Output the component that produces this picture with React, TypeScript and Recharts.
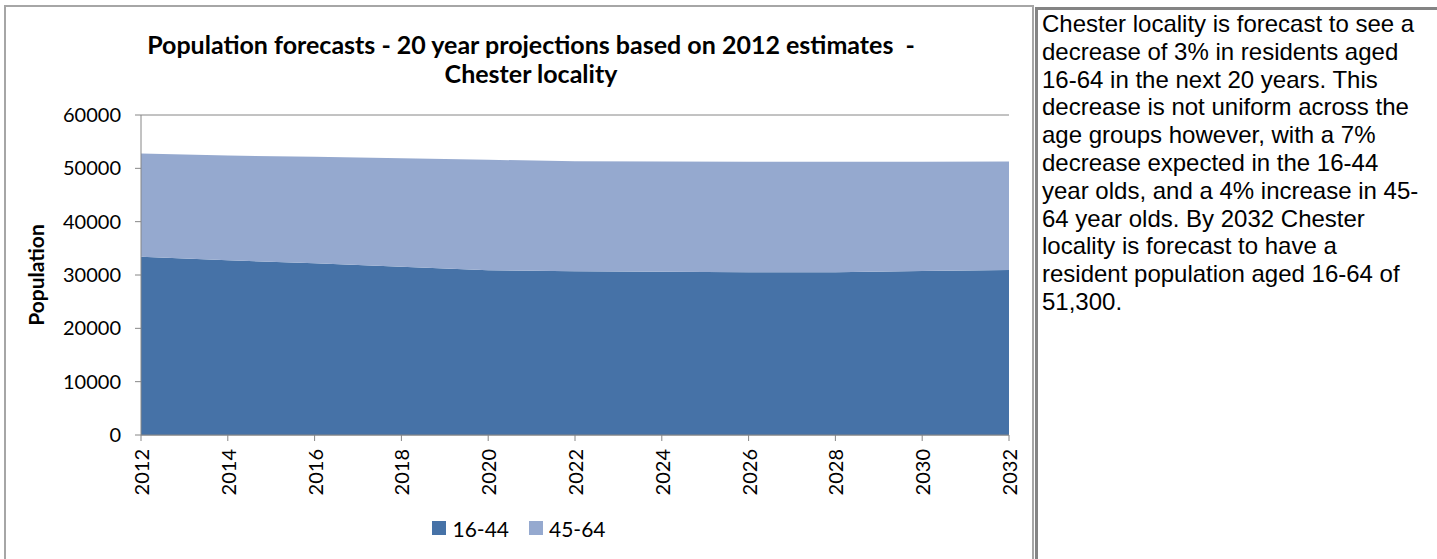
import React from "react";
import {
  AreaChart,
  Area,
  XAxis,
  YAxis,
  CartesianGrid,
  Legend,
} from "recharts";

// Chester locality, population aged 16-64
const years = ["2012", "2014", "2016", "2018", "2020", "2022", "2024", "2026", "2028", "2030", "2032"];
const age16to44 = [33400, 32750, 32200, 31550, 30900, 30700, 30600, 30500, 30500, 30750, 30950];
const age45to64 = [19400, 19650, 19950, 20350, 20700, 20650, 20700, 20750, 20750, 20500, 20350];
const yTicks = [0, 10000, 20000, 30000, 40000, 50000, 60000];

const SERIES = [
  { key: "a", label: "16-44", color: "#4672a7" },
  { key: "b", label: "45-64", color: "#95a9cf" },
];

const NOTE_LINES = [
  "Chester locality is forecast to see a",
  "decrease of 3% in residents aged",
  "16-64 in the next 20 years. This",
  "decrease is not uniform across the",
  "age groups however, with a 7%",
  "decrease expected in the 16-44",
  "year olds, and a 4% increase in 45-",
  "64 year olds. By 2032 Chester",
  "locality is forecast to have a",
  "resident population aged 16-64 of",
  "51,300.",
];

const FONT = "Lato, 'Open Sans', sans-serif";
const AXIS_GREY = "#868686";

const data = years.map((year, i) => ({ year, a: age16to44[i], b: age45to64[i] }));

function YearTick({ x, y, payload }: any) {
  const ty = y + 6;
  return (
    <text
      x={x}
      y={ty}
      transform={`rotate(-90, ${x}, ${ty})`}
      textAnchor="end"
      dominantBaseline="central"
      fontFamily={FONT}
      fontSize={20}
      fill="#000"
    >
      {payload.value}
    </text>
  );
}

function LegendContent() {
  return (
    <div style={{ display: "flex", justifyContent: "center", height: 24, alignItems: "center", fontFamily: FONT, fontSize: 21 }}>
      {SERIES.map((s, i) => (
        <div key={s.key} style={{ display: "flex", alignItems: "center", marginLeft: i ? 20 : 0 }}>
          <span style={{ width: 14, height: 14, background: s.color, display: "inline-block", marginRight: 6 }} />
          <span>{s.label}</span>
        </div>
      ))}
    </div>
  );
}

export default function App() {
  return (
    <div style={{ position: "absolute", left: 0, top: 0, width: 1437, height: 559, overflow: "hidden", background: "#fff" }}>
      {/* chart frame */}
      <div
        style={{
          position: "absolute",
          left: 4,
          top: 5,
          width: 1026,
          height: 600,
          border: "2px solid #a6a6a6",
        }}
      />
      {/* title */}
      <div
        style={{
          position: "absolute",
          left: 4,
          top: 30,
          width: 1054,
          textAlign: "center",
          fontFamily: FONT,
          fontWeight: 700,
          fontSize: 25,
          lineHeight: "29px",
          color: "#000",
        }}
      >
        Population forecasts - 20 year projections based on 2012 estimates&nbsp; -
        <br />
        Chester locality
      </div>
      <div style={{ position: "absolute", left: 0, top: 0 }}>
        <AreaChart width={1034} height={559} data={data} margin={{ top: 115, right: 25, left: 0, bottom: 38 }}>
          <CartesianGrid vertical={false} stroke={AXIS_GREY} />
          <XAxis
            dataKey="year"
            interval={0}
            height={62}
            tick={<YearTick />}
            tickSize={6}
            tickLine={{ stroke: AXIS_GREY }}
            axisLine={{ stroke: AXIS_GREY }}
            padding={{ left: 0, right: 0 }}
          />
          <YAxis
            width={141}
            domain={[0, 60000]}
            ticks={yTicks}
            tickSize={6}
            tickMargin={14}
            tickLine={{ stroke: AXIS_GREY }}
            axisLine={{ stroke: AXIS_GREY }}
            tick={{ fill: "#000", fontSize: 20, fontFamily: FONT }}
            label={{
              value: "Population",
              angle: -90,
              position: "insideLeft",
              offset: 37,
              style: { textAnchor: "middle", fontFamily: FONT, fontWeight: 700, fontSize: 21, fill: "#000" },
            }}
          />
          <Legend
            verticalAlign="bottom"
            content={<LegendContent />}
            wrapperStyle={{ left: 0, width: 1038, top: 516, bottom: "auto" }}
          />
          {SERIES.map((s) => (
            <Area
              key={s.key}
              type="linear"
              dataKey={s.key}
              name={s.label}
              stackId="pop"
              stroke="none"
              fill={s.color}
              fillOpacity={1}
              isAnimationActive={false}
            />
          ))}
        </AreaChart>
      </div>
      {/* commentary box */}
      <div
        style={{
          position: "absolute",
          left: 1035,
          top: 7,
          width: 395,
          height: 600,
          border: "3px solid #848484",
          fontFamily: "'Liberation Sans', Arial, sans-serif",
          fontSize: 24,
          lineHeight: "27.8px",
          color: "#000",
          paddingLeft: 4,
          boxSizing: "content-box",
        }}
      >
        {NOTE_LINES.map((l, i) => (
          <div key={i} style={{ whiteSpace: "nowrap" }}>{l}</div>
        ))}
      </div>
    </div>
  );
}
